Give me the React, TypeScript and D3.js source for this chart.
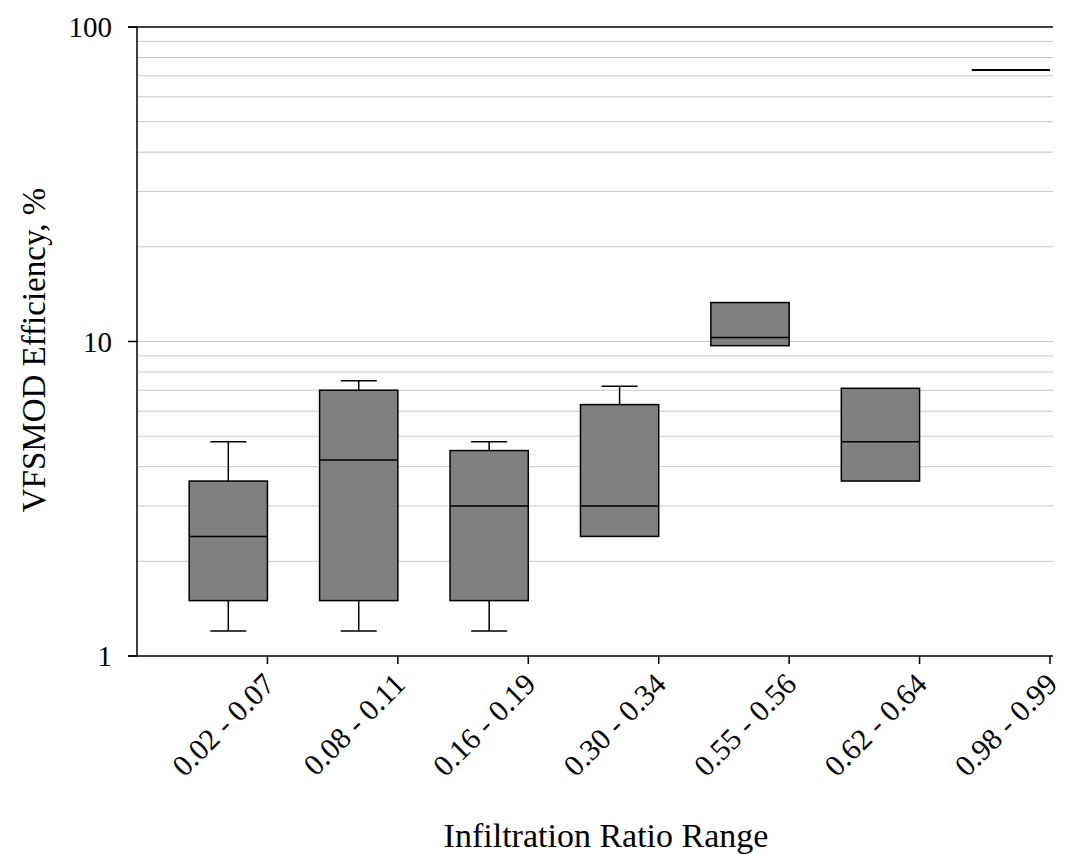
import React from "react";
import * as d3 from "d3";

const categories = ["0.02 - 0.07", "0.08 - 0.11", "0.16 - 0.19", "0.30 - 0.34", "0.55 - 0.56", "0.62 - 0.64", "0.98 - 0.99"];
const whiskerLow = [1.2, 1.2, 1.2, 2.4, 9.7, 3.6, 73];
const q1 = [1.5, 1.5, 1.5, 2.4, 9.7, 3.6, 73];
const median = [2.4, 4.2, 3.0, 3.0, 10.3, 4.8, 73];
const q3 = [3.6, 7.0, 4.5, 6.3, 13.3, 7.1, 73];
const whiskerHigh = [4.8, 7.5, 4.8, 7.2, 13.3, 7.1, 73];
const yTicks = [1, 10, 100];

const W = 1067, H = 854;
const left = 137, right = 1050, top = 27, bottom = 656;
const font = "'Liberation Serif', 'Times New Roman', serif";

export default function App() {
  const x = d3.scaleBand<string>().domain(categories).range([left, right]).padding(0);
  const y = d3.scaleLog().domain([1, 100]).range([bottom, top]);
  const bw = x.bandwidth();
  const boxW = bw * 0.6;
  const capW = 36;

  const minor: number[] = [];
  for (const d of [1, 10]) for (let k = 2; k <= 9; k++) minor.push(d * k);
  minor.push(10);

  return (
    <svg width={W} height={H} style={{ position: "absolute", left: 0, top: 0, background: "#fff" }} fontFamily={font}>
      {minor.map((v, i) => (
        <line key={"g" + i} x1={left} x2={1053} y1={y(v)} y2={y(v)} stroke="#c8c8c8" strokeWidth={1} />
      ))}
      {categories.map((c, i) => {
        const tx = (x(c) as number) + bw;
        const x0 = tx - boxW;
        const cx = tx - boxW / 2;
        const single = q1[i] === q3[i];
        return (
          <g key={c}>
            {single ? (
              <line x1={x0} x2={tx} y1={y(median[i])} y2={y(median[i])} stroke="#000" strokeWidth={2} />
            ) : (
              <g>
                {whiskerHigh[i] > q3[i] && (
                  <g>
                    <line x1={cx} x2={cx} y1={y(q3[i])} y2={y(whiskerHigh[i])} stroke="#000" strokeWidth={1.5} />
                    <line x1={cx - capW / 2} x2={cx + capW / 2} y1={y(whiskerHigh[i])} y2={y(whiskerHigh[i])} stroke="#000" strokeWidth={1.5} />
                  </g>
                )}
                {whiskerLow[i] < q1[i] && (
                  <g>
                    <line x1={cx} x2={cx} y1={y(q1[i])} y2={y(whiskerLow[i])} stroke="#000" strokeWidth={1.5} />
                    <line x1={cx - capW / 2} x2={cx + capW / 2} y1={y(whiskerLow[i])} y2={y(whiskerLow[i])} stroke="#000" strokeWidth={1.5} />
                  </g>
                )}
                <rect x={x0} y={y(q3[i])} width={boxW} height={y(q1[i]) - y(q3[i])} fill="#808080" stroke="#000" strokeWidth={1.5} />
                <line x1={x0} x2={tx} y1={y(median[i])} y2={y(median[i])} stroke="#000" strokeWidth={1.5} />
              </g>
            )}
            <line x1={tx} x2={tx} y1={bottom} y2={bottom + 8} stroke="#000" strokeWidth={1.5} />
            <text
              transform={`translate(${tx + 9},${bottom + 30}) rotate(-45)`}
              textAnchor="end"
              fontSize={30}
              fill="#000"
            >
              {c}
            </text>
          </g>
        );
      })}
      <line x1={left} x2={left} y1={top} y2={bottom} stroke="#000" strokeWidth={1.5} />
      <line x1={128} x2={1053} y1={bottom} y2={bottom} stroke="#000" strokeWidth={1.5} />
      <line x1={128} x2={1053} y1={top} y2={top} stroke="#000" strokeWidth={1.5} />
      {yTicks.map((t) => (
        <g key={t}>
          <line x1={128} x2={left} y1={y(t)} y2={y(t)} stroke="#000" strokeWidth={1.5} />
          <text x={112} y={y(t)} dy="0.35em" textAnchor="end" fontSize={29} fill="#000">
            {t}
          </text>
        </g>
      ))}
      <text transform={`translate(45,350) rotate(-90)`} textAnchor="middle" fontSize={33} fill="#000">
        VFSMOD Efficiency, %
      </text>
      <text x={606} y={847} textAnchor="middle" fontSize={34} fill="#000">
        Infiltration Ratio Range
      </text>
    </svg>
  );
}
